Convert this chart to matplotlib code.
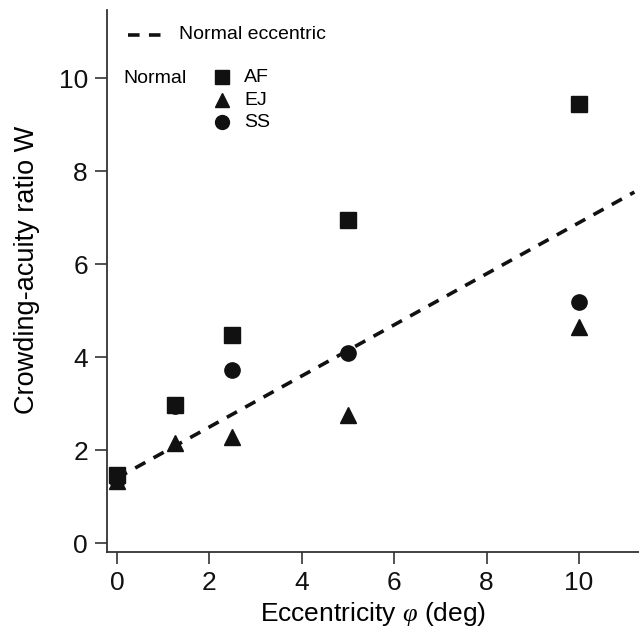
import matplotlib
matplotlib.use('Agg')
import matplotlib.pyplot as plt
import numpy as np

plt.rcParams['font.family'] = ['Liberation Sans', 'DejaVu Sans']
plt.rcParams['mathtext.fontset'] = 'custom'
plt.rcParams['mathtext.rm'] = 'Liberation Sans'
plt.rcParams['mathtext.it'] = 'Liberation Serif:italic'

# eccentricity (deg) and crowding-acuity ratio per observer
ecc = [0, 1.25, 2.5, 5, 10]
w_af = [1.47, 2.97, 4.48, 6.94, 9.44]
w_ej = [1.33, 2.16, 2.29, 2.76, 4.66]
w_ss = [1.36, 2.95, 3.72, 4.08, 5.18]

# normal eccentric fit line endpoints
fit_ecc = [0, 11.2]
fit_w = [1.4, 7.55]

ink = '#111111'
axis_col = '#333333'

fig = plt.figure(figsize=(6.39, 6.39), dpi=100)
ax = fig.add_axes([0.167, 0.136, 0.833, 0.848])

ax.plot(fit_ecc, fit_w, ls=(0, (3.2, 2.6)), color=ink, lw=2.6, zorder=2)
ax.plot(ecc, w_af, 's', color=ink, ms=11, zorder=3)
ax.plot(ecc, w_ej, '^', color=ink, ms=11, zorder=3)
ax.plot(ecc, w_ss, 'o', color=ink, ms=11, zorder=3)

ax.set_xlim(-0.22, 11.3)
ax.set_ylim(-0.19, 11.46)
ax.set_xticks(np.arange(0, 11, 2))
ax.set_yticks(np.arange(0, 11, 2))

for side in ('top', 'right'):
    ax.spines[side].set_visible(False)
for side in ('left', 'bottom'):
    ax.spines[side].set_color(axis_col)
    ax.spines[side].set_linewidth(1.3)
ax.tick_params(direction='out', length=8.5, width=1.2, color=axis_col,
               labelsize=19, pad=5, labelcolor='#111111')

ax.set_xlabel(r'Eccentricity $\varphi$ (deg)', fontsize=19, labelpad=4)
ax.set_ylabel('Crowding-acuity ratio W', fontsize=19.5)
ax.yaxis.set_label_coords(-0.125, 0.52)

# hand-built legend
ax.plot([0.25, 1.05], [10.93, 10.93], ls=(0, (3.2, 2.6)), color=ink, lw=2.6,
        clip_on=False)
ax.text(1.35, 10.93, 'Normal eccentric', fontsize=14, va='center')
ax.text(0.15, 10.0, 'Normal', fontsize=14, va='center')
leg_y = [10.02, 9.52, 9.05]
for mk, lab, yy in zip(['s', '^', 'o'], ['AF', 'EJ', 'SS'], leg_y):
    ax.plot([2.27], [yy], mk, color=ink, ms=10)
    ax.text(2.75, yy, lab, fontsize=14, va='center')

fig.savefig('out.png', dpi=100)
